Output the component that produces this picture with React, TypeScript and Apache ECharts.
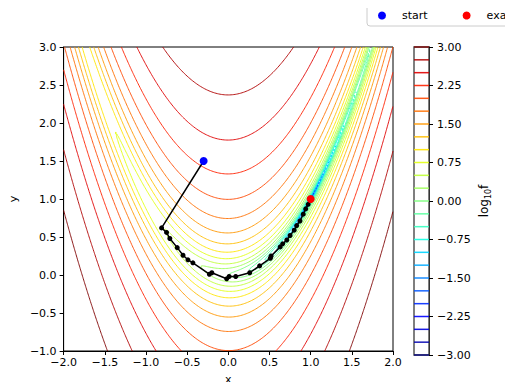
import React, { useEffect, useRef } from "react";
import * as echarts from "echarts";

// contour levels of log10 f (colorbar range -3 .. 3)
const levels: number[] = [
  -3.0, -2.75, -2.5, -2.25, -2.0, -1.75, -1.5, -1.25, -1.0, -0.75, -0.5, -0.25,
  0.0, 0.25, 0.5, 0.75, 1.0, 1.25, 1.5, 1.75, 2.0, 2.25, 2.5, 2.75, 3.0,
];

// optimisation path
const pathX: number[] = [
  -0.3, -0.81, -0.75, -0.71, -0.62, -0.55, -0.49, -0.43, -0.23, -0.2, -0.02, 0.01,
  0.09, 0.26, 0.38, 0.51, 0.52, 0.63, 0.66, 0.71, 0.75, 0.8, 0.83, 0.87, 0.91, 0.94,
  0.97, 1.0,
];
const pathY: number[] = [
  1.5, 0.62, 0.56, 0.48, 0.36, 0.26, 0.2, 0.16, 0.01, 0.03, -0.05, -0.02, -0.02,
  0.03, 0.12, 0.22, 0.25, 0.37, 0.41, 0.46, 0.52, 0.59, 0.65, 0.71, 0.8, 0.87, 0.93,
  1.0,
];
const startPoint: number[] = [-0.3, 1.5];
const exactPoint: number[] = [1.0, 1.0];

const xRange: number[] = [-2, 2];
const yRange: number[] = [-1, 3];
const cbRange: number[] = [-3, 3];

// Rosenbrock function (the plotted surface)
function logRosenbrock(x: number, y: number): number {
  const f = (1 - x) * (1 - x) + 100 * (y - x * x) * (y - x * x);
  return Math.log10(Math.max(f, 1e-12));
}

function interp(p: number[][], t: number): number {
  let i = 0;
  while (i < p.length - 2 && t > p[i + 1][0]) i++;
  const [t0, v0] = p[i];
  const [t1, v1] = p[i + 1];
  if (t1 === t0) return v1;
  const u = Math.min(1, Math.max(0, (t - t0) / (t1 - t0)));
  return v0 + (v1 - v0) * u;
}
const jetR = [[0, 0], [0.35, 0], [0.66, 1], [0.89, 1], [1, 0.5]];
const jetG = [[0, 0], [0.125, 0], [0.375, 1], [0.64, 1], [0.91, 0], [1, 0]];
const jetB = [[0, 0.5], [0.11, 1], [0.34, 1], [0.65, 0], [1, 0]];
function jet(level: number): string {
  const t = (level - cbRange[0]) / (cbRange[1] - cbRange[0]);
  const r = Math.round(interp(jetR, t) * 255);
  const g = Math.round(interp(jetG, t) * 255);
  const b = Math.round(interp(jetB, t) * 255);
  return `rgb(${r},${g},${b})`;
}

function computeContours(N: number) {
  const xs = new Float64Array(N);
  const ys = new Float64Array(N);
  for (let i = 0; i < N; i++) {
    xs[i] = xRange[0] + ((xRange[1] - xRange[0]) * i) / (N - 1);
    ys[i] = yRange[0] + ((yRange[1] - yRange[0]) * i) / (N - 1);
  }
  const vals = new Float64Array(N * N);
  for (let j = 0; j < N; j++)
    for (let i = 0; i < N; i++) vals[j * N + i] = logRosenbrock(xs[i], ys[j]);
  const V = (i: number, j: number) => vals[j * N + i];
  const H = (i: number, j: number) => j * N + i;
  const VE = (i: number, j: number) => N * N + j * N + i;

  const result: { level: number; lines: number[][][] }[] = [];
  for (const level of levels) {
    const adj = new Map<number, number[]>();
    const add = (a: number, b: number) => {
      if (!adj.has(a)) adj.set(a, []);
      if (!adj.has(b)) adj.set(b, []);
      adj.get(a)!.push(b);
      adj.get(b)!.push(a);
    };
    for (let j = 0; j < N - 1; j++) {
      for (let i = 0; i < N - 1; i++) {
        const v00 = V(i, j), v10 = V(i + 1, j), v11 = V(i + 1, j + 1), v01 = V(i, j + 1);
        let c = 0;
        if (v00 > level) c |= 1;
        if (v10 > level) c |= 2;
        if (v11 > level) c |= 4;
        if (v01 > level) c |= 8;
        if (c === 0 || c === 15) continue;
        const B = H(i, j), T = H(i, j + 1), L = VE(i, j), R = VE(i + 1, j);
        const center = (v00 + v10 + v11 + v01) / 4;
        switch (c) {
          case 1: case 14: add(L, B); break;
          case 2: case 13: add(B, R); break;
          case 3: case 12: add(L, R); break;
          case 4: case 11: add(R, T); break;
          case 6: case 9: add(B, T); break;
          case 7: case 8: add(L, T); break;
          case 5:
            if (center > level) { add(L, T); add(B, R); } else { add(L, B); add(R, T); }
            break;
          case 10:
            if (center > level) { add(L, B); add(R, T); } else { add(B, R); add(L, T); }
            break;
        }
      }
    }
    const pt = (e: number): number[] => {
      if (e < N * N) {
        const j = Math.floor(e / N), i = e % N;
        const a = V(i, j), b = V(i + 1, j);
        const t = (level - a) / (b - a);
        return [xs[i] + (xs[i + 1] - xs[i]) * t, ys[j]];
      }
      const k = e - N * N;
      const j = Math.floor(k / N), i = k % N;
      const a = V(i, j), b = V(i, j + 1);
      const t = (level - a) / (b - a);
      return [xs[i], ys[j] + (ys[j + 1] - ys[j]) * t];
    };
    const visited = new Set<number>();
    const walk = (s: number): number[] => {
      const line = [s];
      visited.add(s);
      let cur = s;
      for (;;) {
        const nb = adj.get(cur)!;
        let next = -1;
        for (const n of nb) if (!visited.has(n)) { next = n; break; }
        if (next < 0) {
          if (line.length > 2 && nb.includes(s)) line.push(s);
          break;
        }
        visited.add(next);
        line.push(next);
        cur = next;
      }
      return line;
    };
    const lines: number[][][] = [];
    for (const [k, nb] of adj) if (nb.length === 1 && !visited.has(k)) lines.push(walk(k).map(pt));
    for (const [k] of adj) if (!visited.has(k)) lines.push(walk(k).map(pt));
    result.push({ level, lines });
  }
  return result;
}

const fmt = (d: number) => (v: number) =>
  (v < -1e-9 ? "\u2212" : "") + Math.abs(v).toFixed(d);

const FONT = "DejaVu Sans";
const axisText = { fontSize: 11, color: "#000", fontFamily: FONT };

export default function App() {
  const ref = useRef<HTMLDivElement>(null);
  useEffect(() => {
    if (!ref.current) return;
    const chart = echarts.init(ref.current, undefined, { renderer: "svg" });
    const contours = computeContours(241);
    const contourSeries: any[] = [];
    contours.forEach(({ level, lines }) => {
      const color = jet(level);
      lines.forEach((pts) => {
        contourSeries.push({
          type: "line",
          xAxisIndex: 0,
          yAxisIndex: 0,
          data: pts,
          symbol: "none",
          showSymbol: false,
          silent: true,
          clip: true,
          z: 1,
          lineStyle: { color, width: 1, opacity: 0.9 },
          emphasis: { disabled: true },
        });
      });
    });

    const option: any = {
      animation: false,
      textStyle: { fontFamily: FONT },
      legend: {
        data: ["start", "exact"],
        left: 367,
        top: 5,
        width: 260,
        orient: "horizontal",
        itemWidth: 30,
        itemHeight: 8,
        itemGap: 35,
        padding: [5, 50, 5, 11],
        backgroundColor: "#fff",
        borderColor: "#ccc",
        borderWidth: 1,
        borderRadius: 3,
        selectedMode: false,
        textStyle: { fontSize: 11, color: "#000", fontFamily: FONT },
      },
      grid: [
        { left: 63, top: 47, width: 330, height: 308, show: true, borderColor: "#000", borderWidth: 1, backgroundColor: "#fff" },
        { left: 414, top: 47, width: 15, height: 308, show: true, borderColor: "#555", borderWidth: 1.5, backgroundColor: "#fff" },
      ],
      xAxis: [
        {
          type: "value",
          gridIndex: 0,
          min: xRange[0],
          max: xRange[1],
          interval: 0.5,
          axisLine: { show: true, onZero: false, lineStyle: { color: "#000" } },
          axisTick: { show: true, length: 4, lineStyle: { color: "#000" } },
          splitLine: { show: false },
          axisLabel: { ...axisText, formatter: fmt(1), margin: 6, showMinLabel: true, showMaxLabel: true },
          name: "x",
          nameLocation: "middle",
          nameGap: 23,
          nameTextStyle: axisText,
        },
        { type: "value", gridIndex: 1, min: 0, max: 1, show: false },
      ],
      yAxis: [
        {
          type: "value",
          gridIndex: 0,
          min: yRange[0],
          max: yRange[1],
          interval: 0.5,
          axisLine: { show: true, onZero: false, lineStyle: { color: "#000" } },
          axisTick: { show: true, length: 4, lineStyle: { color: "#000" } },
          splitLine: { show: false },
          axisLabel: { ...axisText, formatter: fmt(1), margin: 7, showMinLabel: true, showMaxLabel: true },
          name: "y",
          nameLocation: "middle",
          nameGap: 38,
          nameTextStyle: axisText,
        },
        {
          type: "value",
          gridIndex: 1,
          position: "right",
          min: cbRange[0],
          max: cbRange[1],
          interval: 0.75,
          axisLine: { show: true, onZero: false, lineStyle: { color: "#333" } },
          axisTick: { show: true, length: 4, lineStyle: { color: "#000" } },
          splitLine: { show: false },
          axisLabel: { ...axisText, formatter: fmt(2), margin: 8, showMinLabel: true, showMaxLabel: true },
          name: "{a|log}{s|10}{a|f}",
          nameLocation: "middle",
          nameRotate: 90,
          nameGap: 47,
          nameTextStyle: {
            ...axisText,
            rich: {
              a: { fontSize: 12, fontFamily: FONT, color: "#000", lineHeight: 16, verticalAlign: "middle" },
              s: { fontSize: 8, fontFamily: FONT, color: "#000", lineHeight: 16, verticalAlign: "bottom" },
            },
          },
        },
      ],
      series: [
        ...contourSeries,
        {
          type: "custom",
          xAxisIndex: 1,
          yAxisIndex: 1,
          silent: true,
          z: 2,
          data: levels.map((l) => [0, l]),
          encode: { x: 0, y: 1 },
          renderItem: (_p: any, api: any) => {
            const lvl = api.value(1);
            const a = api.coord([0, lvl]);
            const b = api.coord([1, lvl]);
            return {
              type: "line",
              shape: { x1: a[0], y1: a[1], x2: b[0], y2: b[1] },
              style: { stroke: jet(lvl), lineWidth: 1.5, opacity: 0.9 },
            };
          },
        },
        {
          name: "path",
          type: "line",
          xAxisIndex: 0,
          yAxisIndex: 0,
          data: pathX.map((x, i) => [x, pathY[i]]),
          symbol: "circle",
          symbolSize: 5,
          showSymbol: true,
          itemStyle: { color: "#000" },
          lineStyle: { color: "#000", width: 1.5 },
          z: 3,
          silent: true,
        },
        {
          name: "start",
          type: "scatter",
          xAxisIndex: 0,
          yAxisIndex: 0,
          data: [startPoint],
          symbol: "circle",
          symbolSize: 8,
          itemStyle: { color: "#0000ff", opacity: 1 },
          z: 4,
        },
        {
          name: "exact",
          type: "scatter",
          xAxisIndex: 0,
          yAxisIndex: 0,
          data: [exactPoint],
          symbol: "circle",
          symbolSize: 8,
          itemStyle: { color: "#ff0000", opacity: 1 },
          z: 4,
        },
      ],
    };
    chart.setOption(option);
    return () => chart.dispose();
  }, []);
  return <div ref={ref} style={{ width: 513, height: 390, margin: -8 }} />;
}
